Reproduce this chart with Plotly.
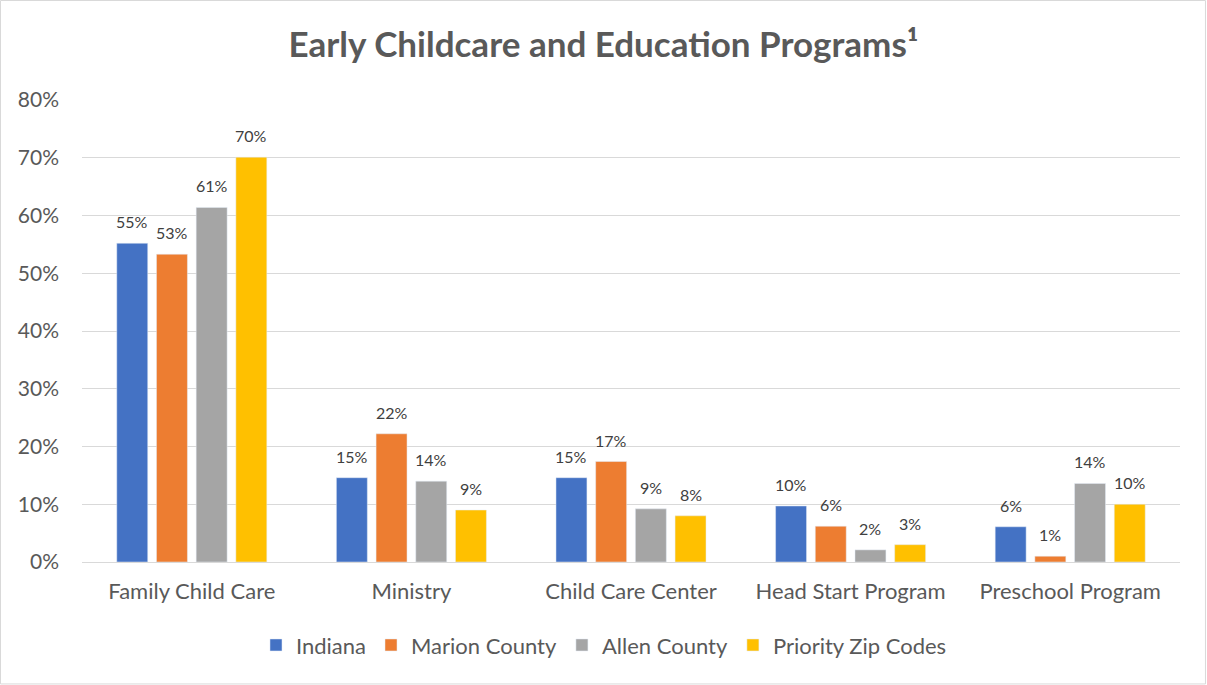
import plotly.graph_objects as go

categories = ["Family Child Care", "Ministry", "Child Care Center", "Head Start Program", "Preschool Program"]
indiana = [0.552, 0.146, 0.146, 0.097, 0.061]
marion = [0.533, 0.222, 0.174, 0.062, 0.010]
allen = [0.614, 0.140, 0.092, 0.021, 0.136]
priority = [0.701, 0.090, 0.080, 0.030, 0.100]
series_names = ["Indiana", "Marion County", "Allen County", "Priority Zip Codes"]
colors = ["#4472C4", "#ED7D31", "#A5A5A5", "#FFC000"]
yticks = [0, 0.1, 0.2, 0.3, 0.4, 0.5, 0.6, 0.7, 0.8]

FONT = "Lato"
TXT = "#595959"
BARGAP = 0.277

all_series = [indiana, marion, allen, priority]
fig = go.Figure()
for name, vals, col in zip(series_names, all_series, colors):
    fig.add_trace(go.Bar(x=categories, y=vals, name=name, marker_color=col))

# data labels placed above each bar, offset within the group using the bar layout fractions
n = len(all_series)
slot = (1 - BARGAP) / n
annotations = []
for i, vals in enumerate(all_series):
    for j, v in enumerate(vals):
        annotations.append(dict(
            x=j + (i - (n - 1) / 2) * slot, y=v, xref="x", yref="y",
            text=f"{round(v * 100)}%", showarrow=False,
            yanchor="bottom", xanchor="center", yshift=10,
            font=dict(family=FONT, size=16, color="#404040"),
        ))

fig.update_layout(
    width=1207, height=685,
    margin=dict(l=82, r=27, t=100, b=123),
    paper_bgcolor="white", plot_bgcolor="white",
    bargap=BARGAP, bargroupgap=0.22,
    title=dict(text="<b>Early Childcare and Education Programs¹</b>",
               x=0.5, xref="container", xanchor="center", y=0.935, yanchor="middle",
               font=dict(family=FONT, size=35, color=TXT)),
    font=dict(family=FONT, size=18, color=TXT),
    legend=dict(orientation="h", x=0.4754, xanchor="center", y=-0.18, yanchor="middle",
                font=dict(family=FONT, size=22, color=TXT), traceorder="normal"),
    annotations=annotations,
    shapes=[dict(type="rect", xref="paper", yref="paper",
                 x0=-0.0742, x1=1.0232, y0=-0.264, y1=1.2154,
                 line=dict(color="#d9d9d9", width=1), layer="below")],
)
fig.update_xaxes(showline=True, linecolor="#d9d9d9", linewidth=1, ticks="",
                 ticklabelstandoff=10,
                 tickfont=dict(family=FONT, size=22, color=TXT))
fig.update_yaxes(range=[0, 0.8], tickvals=yticks, tickformat=".0%",
                 showgrid=True, gridcolor="#d9d9d9", gridwidth=1,
                 zeroline=False, showline=False, ticks="", ticklabelstandoff=22,
                 tickfont=dict(family=FONT, size=21, color=TXT))

fig.write_html("out.html", config={"displayModeBar": False},
               post_script="document.body.style.margin='0';")
